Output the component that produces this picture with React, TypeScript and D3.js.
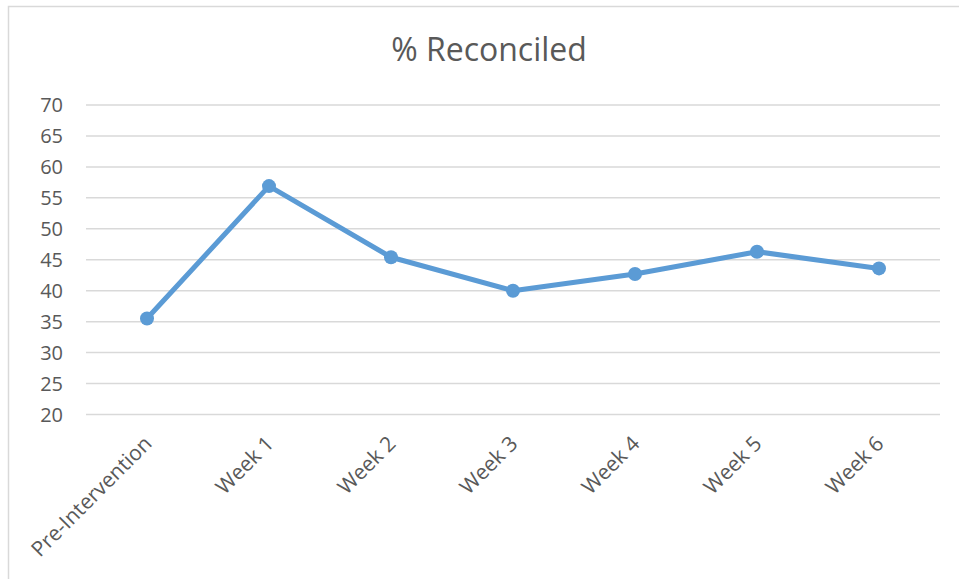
import React from 'react'
import * as d3 from 'd3'

const categories = ['Pre-Intervention', 'Week 1', 'Week 2', 'Week 3', 'Week 4', 'Week 5', 'Week 6']
const reconciled = [35.5, 56.9, 45.4, 40, 42.7, 46.3, 43.6]
const yTicks = [20, 25, 30, 35, 40, 45, 50, 55, 60, 65, 70]

const W = 959
const H = 579
const FONT = "'Open Sans', 'Liberation Sans', sans-serif"

export default function App() {
	const left = 86, right = 940, top = 105, bottom = 414.5

	const x = d3.scaleBand<string>().domain(categories).range([left, right])
	const y = d3.scaleLinear().domain([20, 70]).range([bottom, top])

	const line = d3.line<number>()
		.x((d, i) => x(categories[i])! + x.bandwidth() / 2)
		.y(d => y(d))

	return (
		<svg width={W} height={H} style={{ position: 'absolute', left: 0, top: 0, background: '#fff' }}>
			<rect x={8.5} y={6.5} width={W} height={H} fill="#fff" stroke="#d9d9d9" strokeWidth={1.5} />
			<text x={489} y={61} textAnchor="middle" fontFamily={FONT} fontSize={32} fill="#595959">% Reconciled</text>

			{yTicks.map(t => (
				<g key={t}>
					<line x1={left} x2={right} y1={y(t)} y2={y(t)} stroke="#d9d9d9" strokeWidth={1.5} />
					<text x={63} y={y(t)} dy="0.35em" textAnchor="end" fontFamily={FONT} fontSize={20} fill="#595959">{t}</text>
				</g>
			))}

			{categories.map(c => {
				const cx = x(c)! + x.bandwidth() / 2 + 6
				const cy = 445
				return (
					<text key={c} x={cx} y={cy} textAnchor="end" transform={`rotate(-45 ${cx} ${cy})`}
						fontFamily={FONT} fontSize={21} fill="#595959">{c}</text>
				)
			})}

			<path d={line(reconciled)!} fill="none" stroke="#5b9bd5" strokeWidth={5} strokeLinejoin="round" strokeLinecap="round" />
			{reconciled.map((v, i) => (
				<circle key={i} cx={x(categories[i])! + x.bandwidth() / 2} cy={y(v)} r={7} fill="#5b9bd5" />
			))}
		</svg>
	)
}
